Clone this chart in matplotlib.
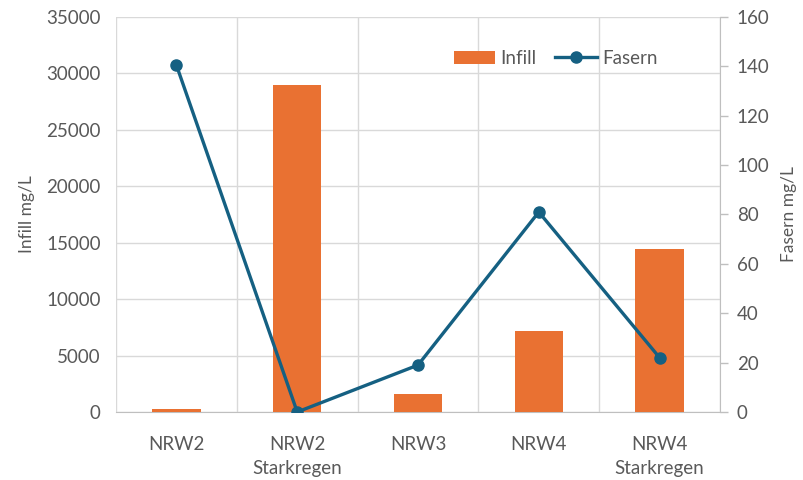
import matplotlib
matplotlib.use('Agg')
import matplotlib.pyplot as plt
import numpy as np

categories = ['NRW2', 'NRW2\nStarkregen', 'NRW3', 'NRW4', 'NRW4\nStarkregen']
infill = [250, 29000, 1550, 7200, 14400]
fasern = [140.5, 0, 19, 81, 22]

plt.rcParams['font.family'] = ['Lato', 'DejaVu Sans']
text_col = '#595959'
grid_col = '#D9D9D9'
fs = 13.5

fig = plt.figure(figsize=(8.04, 4.8), dpi=100)
ax = fig.add_axes([0.1443, 0.1417, 0.7512, 0.8229])
ax2 = ax.twinx()

x = np.arange(len(categories))
bars = ax.bar(x, infill, width=0.4, color='#E97132', label='Infill', zorder=3)
line, = ax2.plot(x, fasern, color='#156082', lw=2.4, marker='o', ms=8,
                 label='Fasern', zorder=4)

ax.set_xlim(-0.5, len(categories) - 0.5)
ax.set_ylim(0, 35000)
ax.set_yticks(np.arange(0, 35001, 5000))
ax2.set_ylim(0, 160)
ax2.set_yticks(np.arange(0, 161, 20))

# gridlines: horizontal and at category borders
ax.set_xticks(np.arange(-0.5, len(categories), 1), minor=True)
ax.grid(axis='y', color=grid_col, lw=1, zorder=0)
ax.grid(axis='x', which='minor', color=grid_col, lw=1, zorder=0)
ax.set_xticks(x)
ax.set_xticklabels(categories, linespacing=1.55)
ax.tick_params(axis='x', which='both', length=0, pad=17, labelsize=fs, colors=text_col)
ax.tick_params(axis='y', length=0, pad=11, labelsize=fs, colors=text_col)
ax2.tick_params(axis='y', length=6, width=1, color='#BFBFBF', pad=6,
                labelsize=fs, colors=text_col)
for lbl in ax2.get_yticklabels():
    lbl.set_color(text_col)

for a in (ax, ax2):
    for s in a.spines.values():
        s.set_visible(False)
ax.spines['bottom'].set_visible(True)
ax.spines['bottom'].set_color('#BFBFBF')
ax2.spines['right'].set_visible(True)
ax2.spines['right'].set_color('#BFBFBF')

ax.set_ylabel('Infill mg/L', fontsize=fs - 1, color=text_col, labelpad=8)
ax2.set_ylabel('Fasern mg/L', fontsize=fs - 1, color=text_col, labelpad=8)

leg = ax.legend([bars, line], ['Infill', 'Fasern'], loc='upper right',
                bbox_to_anchor=(0.925, 0.96), ncol=2, frameon=False,
                fontsize=fs, handlelength=2.2, columnspacing=1.0,
                handletextpad=0.3)
for t in leg.get_texts():
    t.set_color(text_col)

fig.savefig('out.png', dpi=100)
